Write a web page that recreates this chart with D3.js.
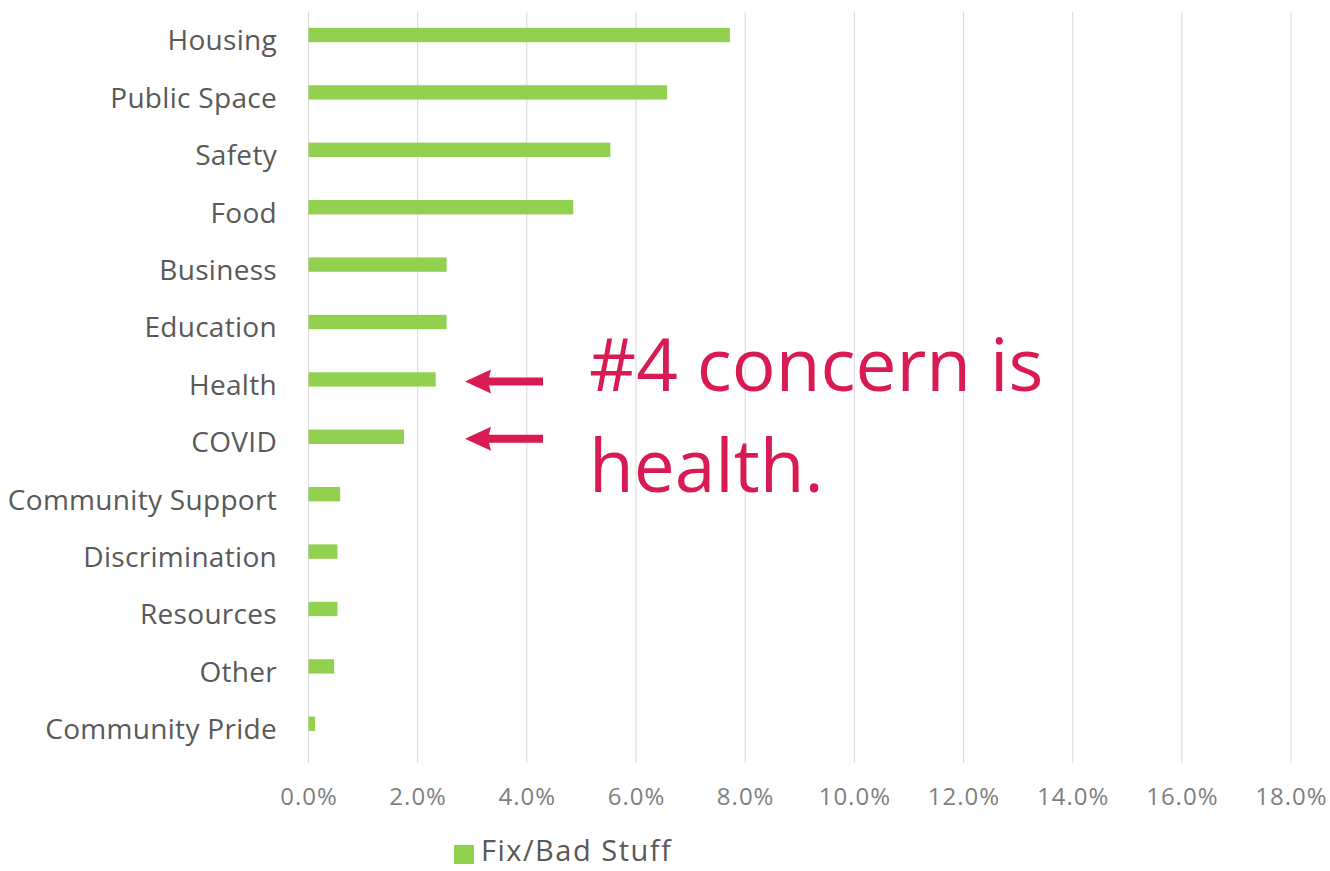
<!DOCTYPE html>
<html>
<head>
<meta charset="utf-8">
<script src="https://cdn.jsdelivr.net/npm/d3@7"></script>
<style>
  html, body { margin: 0; padding: 0; background: #fff; }
  svg { display: block; font-family: "Open Sans", sans-serif; }
</style>
</head>
<body>
<div id="chart"></div>
<script>
// categorias, de cima para baixo
const categories = ["Housing", "Public Space", "Safety", "Food", "Business", "Education",
    "Health", "COVID", "Community Support", "Discrimination", "Resources", "Other", "Community Pride"];
const values = [0.0772, 0.0657, 0.0553, 0.0485, 0.0253, 0.0253,
    0.0233, 0.0175, 0.0058, 0.0053, 0.0053, 0.0047, 0.0012];
const ticks = [0, 0.02, 0.04, 0.06, 0.08, 0.10, 0.12, 0.14, 0.16, 0.18];
const seriesName = "Fix/Bad Stuff";
const arrowTargets = ["Health", "COVID"];
const noteLines = ["#4 concern is", "health."];

const W = 1330, H = 871;
const green = "#92d050", red = "#d81b53";

const svg = d3.select("#chart").append("svg")
    .attr("width", W)
    .attr("height", H);

const x = d3.scaleLinear()
    .domain([0, 0.18])
    .range([308.5, 1291]);

const y = d3.scaleBand()
    .domain(categories)
    .range([6.3, 752.5])
    .paddingInner(0.75)
    .paddingOuter(0.375);

// linhas de grade
svg.append("g")
    .selectAll("line")
    .data(ticks)
    .enter().append("line")
    .attr("x1", d => x(d))
    .attr("x2", d => x(d))
    .attr("y1", 12)
    .attr("y2", 763)
    .attr("stroke", "#d9d9d9")
    .attr("stroke-width", 1);

// eixo x (só os rótulos)
const xAxis = svg.append("g")
    .attr("transform", "translate(0,805)")
    .call(d3.axisBottom(x).tickValues(ticks).tickFormat(d3.format(".1%")).tickSize(0).tickPadding(0));
xAxis.select(".domain").remove();
xAxis.selectAll("text")
    .attr("y", 0)
    .attr("dy", 0)
    .attr("fill", "#7f7f7f")
    .style("font-family", "Open Sans")
    .style("font-size", "24px")
    .style("letter-spacing", "1px");

// eixo y
const yAxis = svg.append("g")
    .attr("transform", "translate(277,0)")
    .call(d3.axisLeft(y).tickSize(0).tickPadding(0));
yAxis.select(".domain").remove();
yAxis.selectAll("text")
    .attr("dy", "0.55em")
    .attr("fill", "#595959")
    .style("font-family", "Open Sans")
    .style("font-size", "28px")
    .style("letter-spacing", "0.3px");

// barras
svg.append("g")
    .selectAll("rect")
    .data(categories)
    .enter().append("rect")
    .attr("x", x(0))
    .attr("y", d => y(d))
    .attr("width", (d, i) => x(values[i]) - x(0))
    .attr("height", y.bandwidth())
    .attr("fill", green);

// setas
const arrowG = svg.append("g");
arrowTargets.forEach(cat => {
    const cy = y(cat) + y.bandwidth() / 2 + 2;
    arrowG.append("path")
        .attr("d", `M465,${cy} L491,${cy - 12} L489,${cy - 4} L543,${cy - 4} L543,${cy + 4} L489,${cy + 4} L491,${cy + 12} Z`)
        .attr("fill", red);
});

// anotação
const note = svg.append("text")
    .attr("x", 589)
    .attr("fill", red)
    .style("font-family", "Open Sans")
    .style("font-size", "73px");
noteLines.forEach((line, i) => {
    note.append("tspan")
        .attr("x", 589)
        .attr("y", 391 + i * 101)
        .text(line);
});

// legenda
const legend = svg.append("g").attr("transform", "translate(454,845)");
legend.append("rect")
    .attr("width", 20)
    .attr("height", 19)
    .attr("fill", green);
legend.append("text")
    .attr("x", 27)
    .attr("y", 16)
    .attr("fill", "#595959")
    .style("font-family", "Open Sans")
    .style("font-size", "29px")
    .style("letter-spacing", "1.5px")
    .text(seriesName);
</script>
</body>
</html>
